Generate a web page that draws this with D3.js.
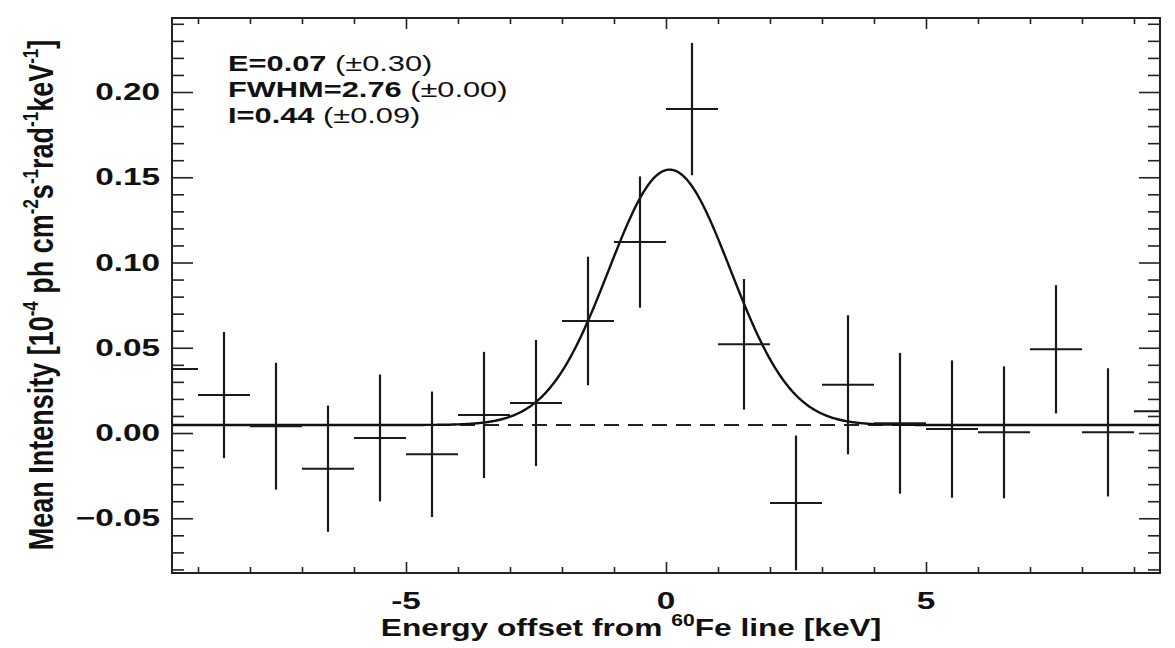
<!DOCTYPE html>
<html>
<head>
<meta charset="utf-8">
<script src="https://cdn.jsdelivr.net/npm/d3@7"></script>
<style>
  body { margin: 0; background: #fff; }
  text { font-family: "Liberation Sans", Arial, sans-serif; fill: #111; }
</style>
</head>
<body>
<div class="chart"></div>
<script>
var svgWidth = 1175;
var svgHeight = 648;

// frame of the plot area
var margin = { top: 18, right: 15, bottom: 75, left: 172 };
var width = svgWidth - margin.left - margin.right;
var height = svgHeight - margin.top - margin.bottom;

// glyphs in the picture are stretched sideways
var stretch = 1.45;

// spectrum bins (keV offset from the 60Fe line)
var binCenters = [-9.5, -8.5, -7.5, -6.5, -5.5, -4.5, -3.5, -2.5, -1.5, -0.5,
                  0.5, 1.5, 2.5, 3.5, 4.5, 5.5, 6.5, 7.5, 8.5, 9.5];
var meanIntensity = [0.0375, 0.0223, 0.0040, -0.0209, -0.0029, -0.0125, 0.0106, 0.0176, 0.0657, 0.1120,
                     0.1900, 0.0520, -0.0410, 0.0283, 0.0057, 0.0023, 0.0004, 0.0491, 0.0004, 0.0127];
var intensityErr = [0.0375, 0.0370, 0.0372, 0.0370, 0.0372, 0.0368, 0.0370, 0.0370, 0.0377, 0.0385,
                    0.0388, 0.0383, 0.0395, 0.0408, 0.0413, 0.0403, 0.0387, 0.0376, 0.0376, 0.0400];
var binHalfWidth = 0.5;

// fitted line parameters
var fitE = 0.07;
var fitFWHM = 2.76;
var fitI = 0.44;
var fitBackground = 0.0047;

var legendLines = [
  ["E=0.07", "(\u00b10.30)"],
  ["FWHM=2.76", "(\u00b10.00)"],
  ["I=0.44", "(\u00b10.09)"]
];

var xMajorTicks = [-5, 0, 5];
var xMinorTicks = [-9, -8, -7, -6, -4, -3, -2, -1, 1, 2, 3, 4, 6, 7, 8, 9];
var yMajorTicks = [-0.05, 0.00, 0.05, 0.10, 0.15, 0.20];
var yMinorTicks = [-0.08, -0.07, -0.06, -0.04, -0.03, -0.02, -0.01, 0.01, 0.02, 0.03, 0.04,
                   0.06, 0.07, 0.08, 0.09, 0.11, 0.12, 0.13, 0.14, 0.16, 0.17, 0.18, 0.19,
                   0.21, 0.22, 0.23, 0.24];

var svg = d3.select(".chart")
  .append("svg")
  .attr("width", svgWidth)
  .attr("height", svgHeight);

var chartGroup = svg.append("g")
  .attr("transform", `translate(${margin.left}, ${margin.top})`);

var xScale = d3.scaleLinear().domain([-9.5, 9.5]).range([0, width]);
var yScale = d3.scaleLinear().domain([-0.0821, 0.2434]).range([height, 0]);

svg.append("defs").append("clipPath").attr("id", "plotClip")
  .append("rect").attr("width", width).attr("height", height);

// tick marks on all four sides
function tickAxis(axis, values, size, transform) {
  var g = chartGroup.append("g")
    .attr("transform", transform)
    .call(axis.tickValues(values).tickSize(size).tickFormat(""));
  g.select(".domain").remove();
  g.selectAll("line").attr("stroke", "#222").attr("stroke-width", 1.6);
}
tickAxis(d3.axisBottom(xScale), xMajorTicks, -11, `translate(0,${height})`);
tickAxis(d3.axisBottom(xScale), xMinorTicks, -6, `translate(0,${height})`);
tickAxis(d3.axisTop(xScale), xMajorTicks, -11, "translate(0,0)");
tickAxis(d3.axisTop(xScale), xMinorTicks, -6, "translate(0,0)");
tickAxis(d3.axisLeft(yScale), yMajorTicks, -21, "translate(0,0)");
tickAxis(d3.axisLeft(yScale), yMinorTicks, -12, "translate(0,0)");
tickAxis(d3.axisRight(yScale), yMajorTicks, -21, `translate(${width},0)`);
tickAxis(d3.axisRight(yScale), yMinorTicks, -12, `translate(${width},0)`);

// tick labels
chartGroup.selectAll(".ylab")
  .data(yMajorTicks)
  .enter()
  .append("g")
  .attr("transform", d => `translate(-12, ${yScale(d) + 8}) scale(${stretch},1)`)
  .append("text")
  .attr("text-anchor", "end")
  .attr("font-size", 23)
  .attr("font-weight", "bold")
  .text(d => d3.format(".2f")(d));

chartGroup.selectAll(".xlab")
  .data(xMajorTicks)
  .enter()
  .append("g")
  .attr("transform", d => `translate(${xScale(d)}, ${height + 36}) scale(${stretch},1)`)
  .append("text")
  .attr("text-anchor", "middle")
  .attr("font-size", 23)
  .attr("font-weight", "bold")
  .text(d => d);

// axis titles
var xTitle = svg.append("g")
  .attr("transform", `translate(${margin.left + width / 2 - 35}, 636) scale(1.32,1)`)
  .append("text")
  .attr("text-anchor", "middle")
  .attr("font-size", 24)
  .attr("font-weight", "bold");
xTitle.append("tspan").text("Energy offset from ");
xTitle.append("tspan").attr("font-size", 16).attr("dy", -10).text("60");
xTitle.append("tspan").attr("dy", 10).text("Fe line [keV]");

var yTitle = svg.append("g")
  .attr("transform", `translate(53, 295) scale(1.33,1) rotate(-90)`)
  .append("text")
  .attr("text-anchor", "middle")
  .attr("font-size", 27)
  .attr("font-weight", "bold");
var yParts = [["Mean Intensity [10", false], ["-4", true], [" ph cm", false], ["-2", true],
              ["s", false], ["-1", true], ["rad", false], ["-1", true], ["keV", false],
              ["-1", true], ["]", false]];
yParts.forEach(function(p, i) {
  var prevSup = i > 0 && yParts[i - 1][1];
  yTitle.append("tspan")
    .attr("font-size", p[1] ? 17 : 27)
    .attr("dy", p[1] ? -11 : (prevSup ? 11 : 0))
    .text(p[0]);
});

// data + fit, clipped to the frame
var plotGroup = chartGroup.append("g").attr("clip-path", "url(#plotClip)");

var sigma = fitFWHM / (2 * Math.sqrt(2 * Math.log(2)));
var xFine = d3.range(-9.5, 9.5001, 0.02);
var fitLine = d3.line()
  .x(d => xScale(d))
  .y(d => yScale(fitBackground + fitI / (sigma * Math.sqrt(2 * Math.PI)) *
                  Math.exp(-Math.pow(d - fitE, 2) / (2 * sigma * sigma))));

plotGroup.append("line")
  .attr("x1", 0).attr("x2", width)
  .attr("y1", yScale(fitBackground)).attr("y2", yScale(fitBackground))
  .attr("stroke", "#222")
  .attr("stroke-width", 2)
  .attr("stroke-dasharray", "15,9");

plotGroup.append("path")
  .datum(xFine)
  .attr("d", fitLine)
  .attr("fill", "none")
  .attr("stroke", "#111")
  .attr("stroke-width", 2.4);

var points = binCenters.map(function(c, i) {
  return { x: c, y: meanIntensity[i], err: intensityErr[i] };
});

plotGroup.selectAll(".hbar")
  .data(points)
  .enter()
  .append("line")
  .attr("x1", d => xScale(d.x - binHalfWidth))
  .attr("x2", d => xScale(d.x + binHalfWidth))
  .attr("y1", d => yScale(d.y))
  .attr("y2", d => yScale(d.y))
  .attr("stroke", "#1a1a1a")
  .attr("stroke-width", 2);

plotGroup.selectAll(".vbar")
  .data(points)
  .enter()
  .append("line")
  .attr("x1", d => xScale(d.x))
  .attr("x2", d => xScale(d.x))
  .attr("y1", d => yScale(d.y - d.err))
  .attr("y2", d => yScale(d.y + d.err))
  .attr("stroke", "#1a1a1a")
  .attr("stroke-width", 2.2);

// frame
chartGroup.append("rect")
  .attr("width", width)
  .attr("height", height)
  .attr("fill", "none")
  .attr("stroke", "#222")
  .attr("stroke-width", 2);

// fit results
legendLines.forEach(function(l, i) {
  var t = chartGroup.append("g")
    .attr("transform", `translate(56, ${53 + i * 26}) scale(1.4,1)`)
    .append("text")
    .attr("font-size", 22);
  t.append("tspan").attr("font-weight", "bold").text(l[0] + " ");
  t.append("tspan").text(l[1]);
});
</script>
</body>
</html>
